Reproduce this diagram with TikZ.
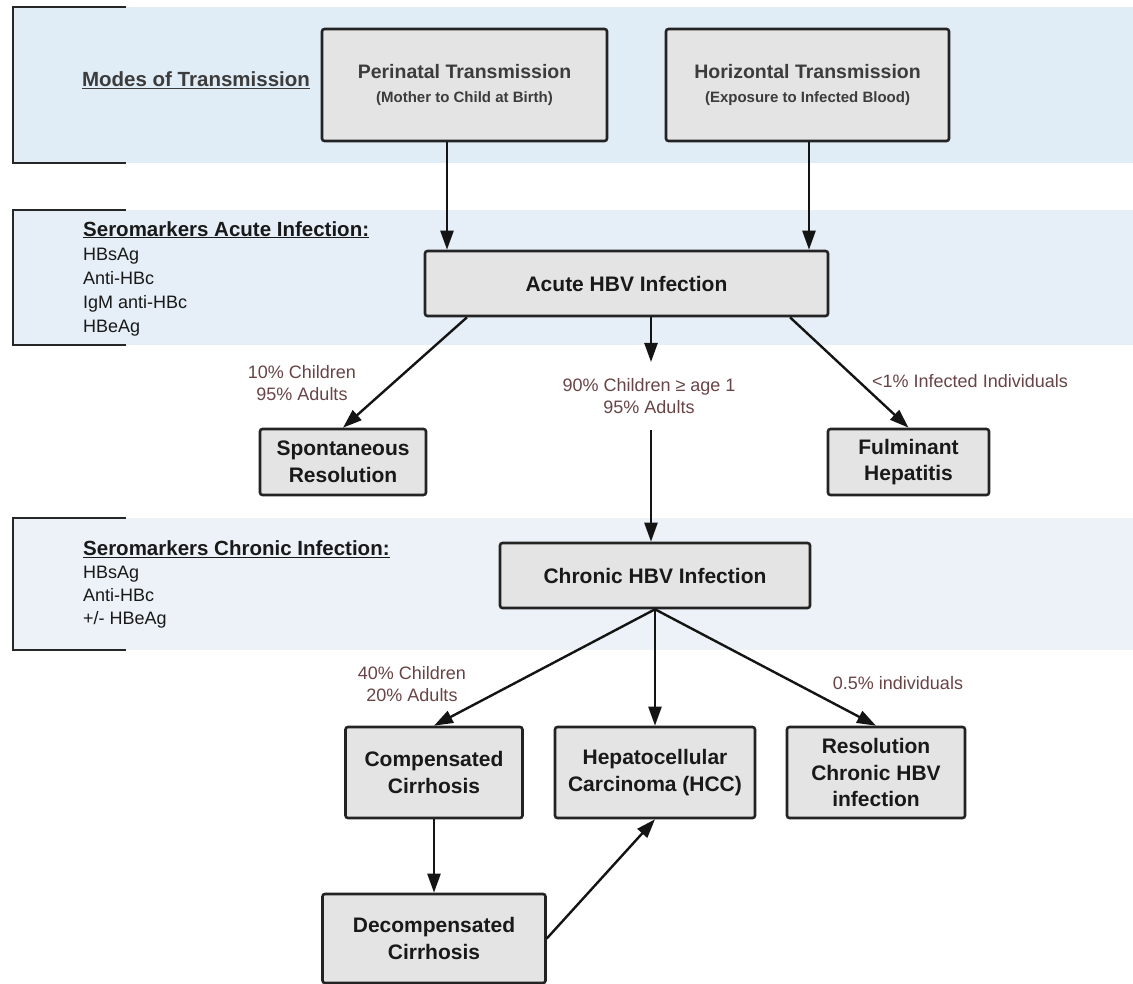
\documentclass[tikz,border=0pt]{standalone}
\usepackage{fontspec}
\setmainfont{Liberation Sans}
\usetikzlibrary{arrows.meta}
\newcommand\myul[1]{\underline{#1}}
\definecolor{bandA}{RGB}{224,236,246}
\definecolor{bandB}{RGB}{230,239,248}
\definecolor{bandC}{RGB}{236,242,248}
\definecolor{boxfill}{RGB}{228,228,228}
\definecolor{boxline}{RGB}{35,35,35}
\definecolor{labelc}{RGB}{105,68,70}
\definecolor{textdark}{RGB}{25,25,25}
\definecolor{textgray}{RGB}{60,60,60}
\begin{document}
\begin{tikzpicture}[x=1pt,y=-1pt,
  box/.style={draw=boxline, fill=boxfill, line width=2.6pt, rounded corners=2.5pt, inner sep=0pt, align=center, text=textdark, font=\fontsize{21}{26.5}\selectfont\bfseries},
  topbox/.style={box, text=textgray, minimum width=284pt, minimum height=112pt, font=\fontsize{19.5}{24}\selectfont\bfseries},
  arr/.style={line width=2.4pt, draw=black!92, -{Triangle[length=19pt,width=13pt]}},
  lbl/.style={text=labelc, align=center, inner sep=0pt, font=\fontsize{18}{21.5}\selectfont},
  bracket/.style={line width=2.6pt, draw=black!85},
  side/.style={align=left, inner sep=0pt, anchor=north west, text=textdark},
]
\useasboundingbox (0,0) rectangle (1133,984);
\fill[white] (0,0) rectangle (1133,984);

% bands
\fill[bandA] (13,7) rectangle (1133,163);
\fill[bandB] (13,210) rectangle (1133,345);
\fill[bandC] (13,518) rectangle (1133,650);

% brackets
\draw[bracket] (126,7) -- (13,7) -- (13,163) -- (126,163);
\draw[bracket] (126,210) -- (13,210) -- (13,345) -- (126,345);
\draw[bracket] (126,518) -- (13,518) -- (13,650) -- (126,650);

% side texts
\node[text=textgray, font=\fontsize{20.5}{24}\selectfont\bfseries, inner sep=0pt] (modes) at (196,80) {\myul{Modes of Transmission}};
\node[side, font=\fontsize{18}{24}\selectfont] (seroA) at (83,221)
  {{\fontsize{20.5}{24}\selectfont\bfseries\myul{Seromarkers Acute Infection:}}\\HBsAg\\Anti-HBc\\IgM anti-HBc\\HBeAg};
\node[side, font=\fontsize{18}{23}\selectfont] (seroC) at (83,540.5)
  {{\fontsize{20.5}{23}\selectfont\bfseries\myul{Seromarkers Chronic Infection:}}\\HBsAg\\Anti-HBc\\+/- HBeAg};

% boxes
\node[topbox, minimum width=285pt] (peri) at (464.5,85) {Perinatal Transmission\\{\fontsize{15}{24}\selectfont (Mother to Child at Birth)}};
\node[topbox, minimum width=283pt] (horiz) at (807.5,85) {Horizontal Transmission\\{\fontsize{15}{24}\selectfont (Exposure to Infected Blood)}};
\node[box, minimum width=403pt, minimum height=65pt] (acute) at (626.5,283.5) {Acute HBV Infection};
\node[box, minimum width=166pt, minimum height=66pt] (spont) at (343,462) {Spontaneous\\Resolution};
\node[box, minimum width=161pt, minimum height=66pt] (fulm) at (908.5,462) {Fulminant\\Hepatitis};
\node[box, minimum width=310pt, minimum height=65pt] (chronic) at (655,575.5) {Chronic HBV Infection};
\node[box, minimum width=177pt, minimum height=91pt] (comp) at (434,772.5) {Compensated\\Cirrhosis};
\node[box, minimum width=200pt, minimum height=91pt] (hcc) at (655,772.5) {Hepatocellular\\Carcinoma (HCC)};
\node[box, minimum width=178pt, minimum height=91pt] (resol) at (876,772.5) {Resolution\\Chronic HBV\\infection};
\node[box, minimum width=223pt, minimum height=89pt] (decomp) at (434,938.5) {Decompensated\\Cirrhosis};

% labels
\node[lbl] (l1) at (302,383) {10\% Children\\95\% Adults};
\node[lbl] (l2) at (649,396) {90\% Children ≥ age 1\\95\% Adults};
\node[lbl] (l3) at (970,381) {<1\% Infected Individuals};
\node[lbl] (l4) at (412,684) {40\% Children\\20\% Adults};
\node[lbl] (l5) at (898,683) {0.5\% individuals};

% connectors
\coordinate (xL) at (447,0);
\coordinate (xR) at (809,0);
\coordinate (xM) at (651,0);
\coordinate (aLx) at (467,0);
\coordinate (aRx) at (790,0);
\coordinate (m1) at (651,362);
\coordinate (m2) at (651,430);
\draw[arr] (xL |- peri.south) -- (xL |- acute.north);
\draw[arr] (xR |- horiz.south) -- (xR |- acute.north);
\draw[arr] (aLx |- acute.south) -- (spont.north);
\draw[arr] (xM |- acute.south) -- (m1);
\draw[arr] (m2) -- (xM |- chronic.north);
\draw[arr] (aRx |- acute.south) -- (fulm.north);
\draw[arr] (chronic.south) -- (comp.north);
\draw[arr] (chronic.south) -- (hcc.north);
\draw[arr] (chronic.south) -- (resol.north);
\draw[arr] (comp.south) -- (decomp.north);
\draw[arr] (decomp.east) -- (hcc.south);
\end{tikzpicture}
\end{document}
